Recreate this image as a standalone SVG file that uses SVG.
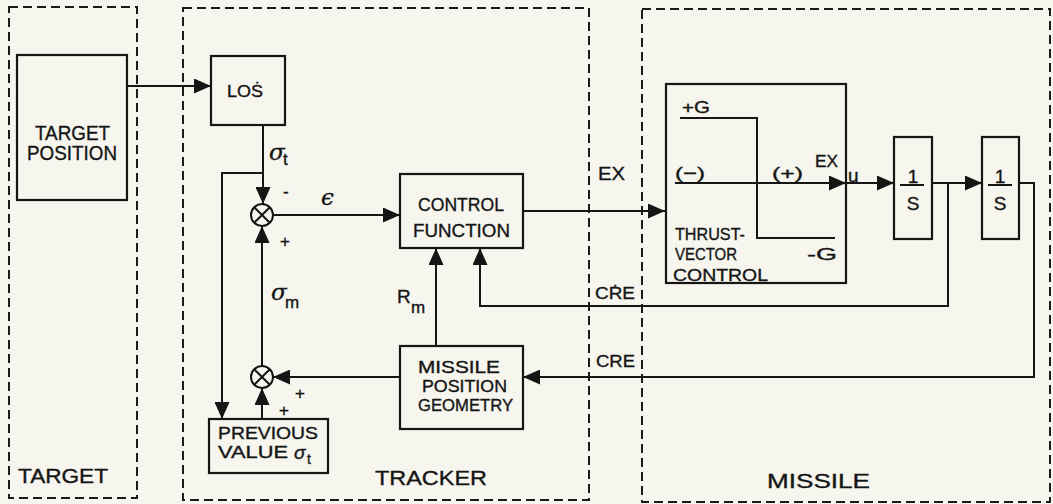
<svg xmlns="http://www.w3.org/2000/svg" width="1053" height="504" viewBox="0 0 1053 504">
<style>
text{font-family:"Liberation Sans","DejaVu Sans",sans-serif;fill:#151515;stroke:#151515;stroke-width:0.35}
.xl{font-size:20px}
.t{font-size:19px}
.m{font-size:17px}
.s{font-size:17px}
.g{font-size:23px;font-family:"DejaVu Serif","Liberation Serif",serif;font-style:italic}
.zone{fill:none;stroke:#1a1a1a;stroke-width:2;stroke-dasharray:9 5}
.box{fill:none;stroke:#151515;stroke-width:2.2}
.ln{fill:none;stroke:#151515;stroke-width:2}
.ar{fill:none;stroke:#151515;stroke-width:2;marker-end:url(#ah)}
</style>
<defs>
<marker id="ah" markerUnits="userSpaceOnUse" markerWidth="18" markerHeight="15" refX="17" refY="7.5" orient="auto">
<path d="M0,0 L17,7.5 L0,15 z" fill="#151515"/>
</marker>
</defs>
<rect width="1053" height="504" fill="#f6f5ee"/>
<g id="zones">
<rect class="zone" x="9" y="7" width="128" height="491"/>
<rect class="zone" x="183" y="8" width="406" height="492"/>
<rect class="zone" x="642" y="9" width="408" height="493"/>
<text x="18" y="483" class="xl" textLength="90" lengthAdjust="spacingAndGlyphs">TARGET</text>
<text x="375" y="485" class="xl" textLength="112" lengthAdjust="spacingAndGlyphs">TRACKER</text>
<text x="767" y="488" class="xl" textLength="103" lengthAdjust="spacingAndGlyphs">MISSILE</text>
</g>
<g id="target-position">
<rect class="box" x="17" y="55" width="110" height="145"/>
<text x="35" y="140" class="xl" textLength="75" lengthAdjust="spacingAndGlyphs">TARGET</text>
<text x="27" y="160" class="xl" textLength="90" lengthAdjust="spacingAndGlyphs">POSITION</text>
</g>
<g id="los">
<rect class="box" x="211" y="56" width="74" height="69"/>
<text x="227" y="97" class="s" textLength="36" lengthAdjust="spacingAndGlyphs">LOṠ</text>
</g>
<g id="sum1">
<circle class="ln" cx="262" cy="215" r="11"/>
<path class="ln" d="M254.2,207.2 L269.8,222.8 M269.8,207.2 L254.2,222.8"/>
</g>
<g id="sum2">
<circle class="ln" cx="262" cy="377" r="11"/>
<path class="ln" d="M254.2,369.2 L269.8,384.8 M269.8,369.2 L254.2,384.8"/>
</g>
<g id="control-function">
<rect class="box" x="400" y="174" width="123" height="74"/>
<text x="418" y="211" class="t" textLength="86" lengthAdjust="spacingAndGlyphs">CONTROL</text>
<text x="413" y="237" class="t" textLength="97" lengthAdjust="spacingAndGlyphs">FUNCTION</text>
</g>
<g id="missile-position-geometry">
<rect class="box" x="400" y="346" width="123" height="83"/>
<text x="418" y="373" class="m" textLength="82" lengthAdjust="spacingAndGlyphs">MISSILE</text>
<text x="422" y="392" class="m" textLength="85" lengthAdjust="spacingAndGlyphs">POSITION</text>
<text x="418" y="411" class="m" textLength="95" lengthAdjust="spacingAndGlyphs">GEOMETRY</text>
</g>
<g id="previous-value">
<rect class="box" x="209" y="419" width="119" height="54"/>
<text x="218" y="439" class="m" textLength="100" lengthAdjust="spacingAndGlyphs">PREVIOUS</text>
<text x="218" y="458" class="m" textLength="70" lengthAdjust="spacingAndGlyphs">VALUE</text>
<text x="294" y="459" class="s" style="font-size:19px;font-style:italic">σ</text>
<text x="307" y="464" class="s" style="font-size:14px">t</text>
</g>
<g id="thrust-vector-control">
<rect class="box" x="666" y="84" width="180" height="199"/>
<path class="ln" d="M680,118 H757 V238 H835"/>
<path class="ar" d="M675,183 H846"/>
<text x="682" y="113" class="s" textLength="28" lengthAdjust="spacingAndGlyphs">+G</text>
<text x="675" y="179" class="s" textLength="30" lengthAdjust="spacingAndGlyphs">(−)</text>
<text x="772" y="179" class="s" textLength="31" lengthAdjust="spacingAndGlyphs">(+)</text>
<text x="815" y="167" class="s" textLength="23" lengthAdjust="spacingAndGlyphs">EX</text>
<text x="807" y="260" class="s" textLength="30" lengthAdjust="spacingAndGlyphs">-G</text>
<text x="675" y="240" class="m" textLength="70" lengthAdjust="spacingAndGlyphs">THRUST-</text>
<text x="675" y="260" class="m" textLength="62" lengthAdjust="spacingAndGlyphs">VECTOR</text>
<text x="673" y="281" class="m" textLength="95" lengthAdjust="spacingAndGlyphs">CONTROL</text>
</g>
<g id="integrator1">
<rect class="box" x="894" y="137" width="38" height="102"/>
<text x="913" y="183" class="t" text-anchor="middle">1</text>
<path class="ln" d="M900,185 H924"/>
<text x="913" y="210" class="t" text-anchor="middle">S</text>
</g>
<g id="integrator2">
<rect class="box" x="982" y="137" width="37" height="102"/>
<text x="1000" y="183" class="t" text-anchor="middle">1</text>
<path class="ln" d="M988,185 H1012"/>
<text x="1000" y="210" class="t" text-anchor="middle">S</text>
</g>
<g id="connectors">
<path class="ar" d="M127,86 H211"/>
<path class="ar" d="M263,125 V204"/>
<path class="ar" d="M263,173 H222 V419"/>
<path class="ar" d="M274,215 H400"/>
<path class="ar" d="M523,211 H665"/>
<path class="ar" d="M846,183 H894"/>
<path class="ar" d="M932,183 H982"/>
<path class="ar" d="M948,183 V306 H480 V248"/>
<path class="ar" d="M1019,183 H1034 V377 H523"/>
<path class="ar" d="M436,346 V248"/>
<path class="ar" d="M400,377 H273"/>
<path class="ar" d="M262,366 V226"/>
<path class="ar" d="M262,419 V388"/>
<text x="269" y="160" class="g">σ</text>
<text x="283" y="165" class="s">t</text>
<text x="283" y="197" class="s">-</text>
<text x="280" y="247" class="s">+</text>
<text x="321" y="205" class="g">ϵ</text>
<text x="271" y="300" class="g">σ</text>
<text x="285" y="308" class="s">m</text>
<text x="397" y="303" class="t">R</text>
<text x="411" y="313" class="s">m</text>
<text x="295" y="399" class="s">+</text>
<text x="279" y="416" class="s">+</text>
<text x="598" y="180" class="t" textLength="27" lengthAdjust="spacingAndGlyphs">EX</text>
<text x="595" y="299" class="s" textLength="40" lengthAdjust="spacingAndGlyphs">CṘE</text>
<text x="596" y="367" class="s" textLength="39" lengthAdjust="spacingAndGlyphs">CRE</text>
<text x="848" y="182" class="t">u</text>
</g>
</svg>
